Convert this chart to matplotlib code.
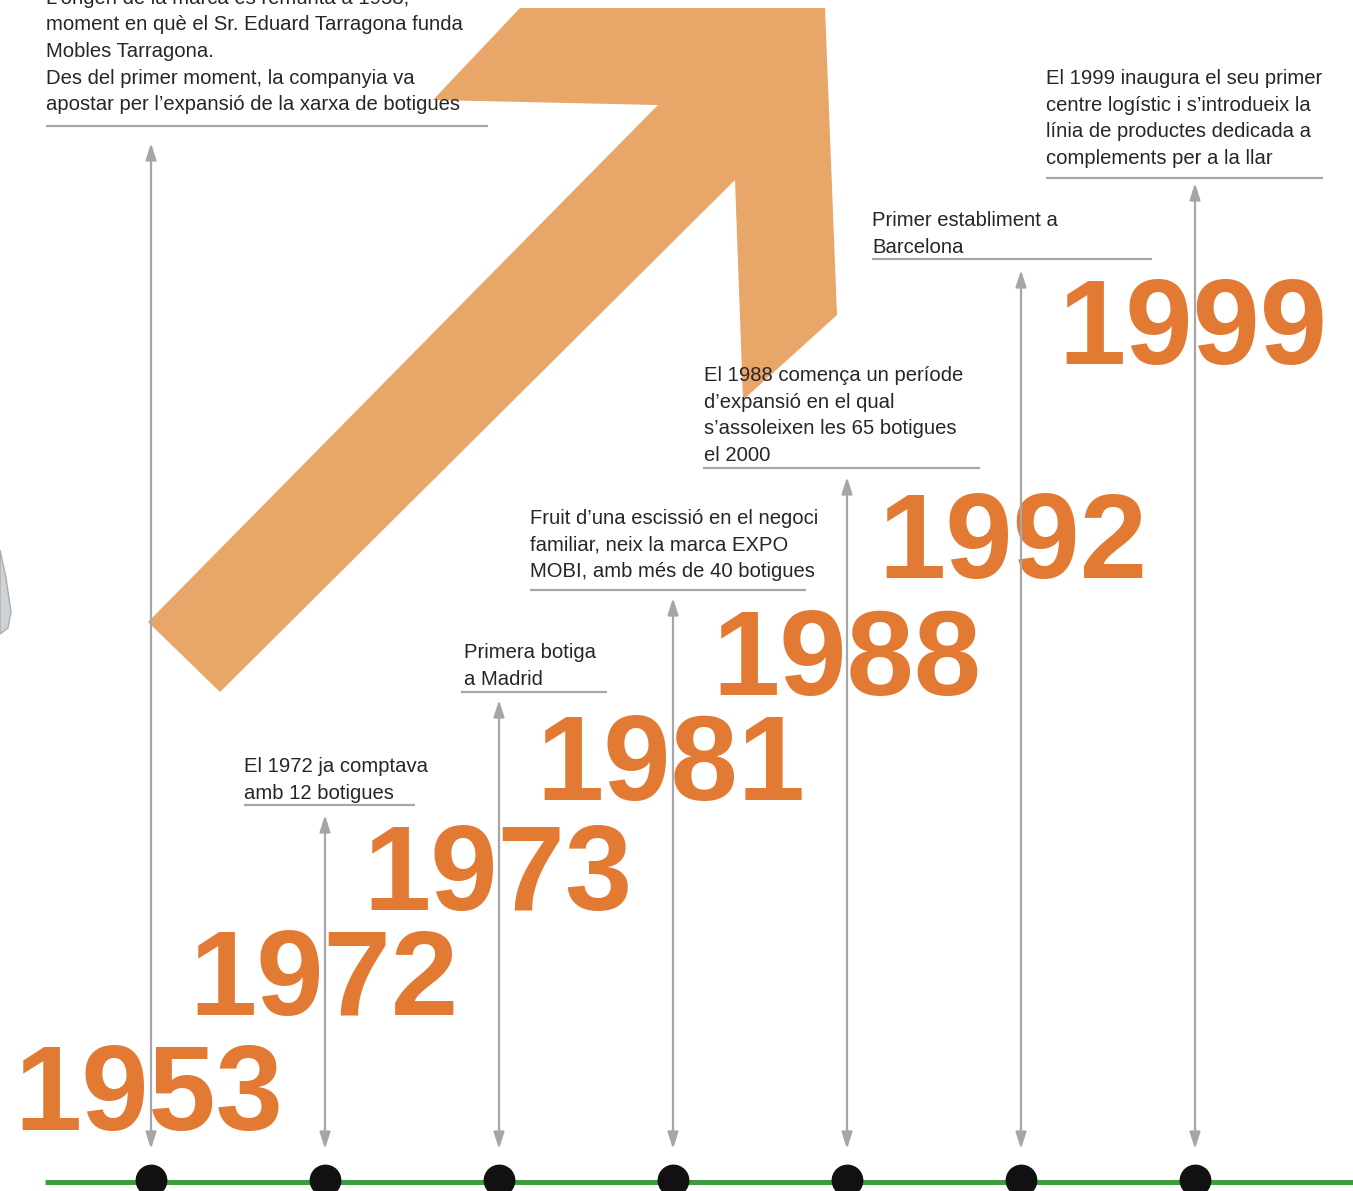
#!/usr/bin/env python3
# Timeline infographic: Mobles Tarragona / EXPO MOBI, 1953-1999

import matplotlib
matplotlib.use("Agg")
import matplotlib.pyplot as plt
import matplotlib.patches as mpl_p

# ---- data ----
years = ["1953", "1972", "1973", "1981", "1988", "1992", "1999"]
notes = [
    "L\u2019origen de la marca es remunta a 1953,\nmoment en qu\u00e8 el Sr. Eduard Tarragona funda\n"
    "Mobles Tarragona.\nDes del primer moment, la companyia va\napostar per l\u2019expansi\u00f3 de la xarxa de botigues",
    "El 1972 ja comptava\namb 12 botigues",
    "Primera botiga\na Madrid",
    "Fruit d\u2019una escissi\u00f3 en el negoci\nfamiliar, neix la marca EXPO\nMOBI, amb m\u00e9s de 40 botigues",
    "El 1988 comen\u00e7a un per\u00edode\nd\u2019expansi\u00f3 en el qual\ns\u2019assoleixen les 65 botigues\nel 2000",
    "Primer establiment a\nBarcelona",
    "El 1999 inaugura el seu primer\ncentre log\u00edstic i s\u2019introdueix la\nl\u00ednia de productes dedicada a\ncomplements per a la llar",
]

# ---- layout (pixels, y down) ----
W, H = 1353, 1191
X0, STEP = 151, 174          # timeline dot spacing
LINE_Y = 1182
year_xy = [(14, 1130), (189, 1015), (363, 910), (536, 800), (712, 695), (878, 578), (1058, 364)]
note_xy = [(46, 3.5), (244, 772), (464, 658), (530, 524), (704, 381), (872, 226), (1046, 84)]
rule_y = [126, 805, 692, 590, 468, 259, 178]
rule_x = [(46, 488), (244, 415), (461, 607), (530, 806), (703, 980), (872, 1152), (1046, 1323)]
arrow_top = [143, 815, 700, 598, 477, 270, 183]
LEAD = 26.7

ORANGE = "#e27a33"
ARROW_FILL = "#e8a669"
GREY = "#a6a6a6"
TEXT = "#262626"

fig = plt.figure(figsize=(W / 100, H / 100), dpi=100)
ax = fig.add_axes([0, 0, 1, 1])
ax.set_xlim(0, W)
ax.set_ylim(H, 0)
ax.axis("off")

# big rising arrow behind everything
big_arrow = [(148, 622), (658, 105), (433, 100), (520, 8), (825, 8),
             (837, 315), (743, 400), (735, 180), (220, 692)]
ax.add_patch(mpl_p.Polygon(big_arrow, closed=True, fc=ARROW_FILL, ec="none", zorder=1))

# clipped grey shape on left edge
ax.add_patch(mpl_p.Polygon([(0, 550), (6, 578), (11, 612), (8, 628), (0, 634)],
                           closed=True, fc="#cfd3d6", ec="#a9adb0", lw=1, zorder=1))

for i, (yr, note) in enumerate(zip(years, notes)):
    x = X0 + STEP * i

    # year number
    yx, yy = year_xy[i]
    ax.text(yx, yy, yr, fontsize=87, fontweight="bold", color=ORANGE,
            family="Liberation Sans", ha="left", va="baseline", zorder=2)

    # note text, one line at a time
    nx, ny = note_xy[i]
    for k, line in enumerate(note.split("\n")):
        ax.text(nx, ny + k * LEAD, line, fontsize=14.6, color=TEXT,
                family="Liberation Sans", ha="left", va="baseline", zorder=4)

    # rule under note
    ax.plot(rule_x[i], [rule_y[i]] * 2, color=GREY, lw=1.6, solid_capstyle="butt", zorder=3)

    # double headed connector
    ax.annotate("", xy=(x, arrow_top[i]), xytext=(x, 1149),
                arrowprops=dict(arrowstyle="<|-|>,head_length=1.0,head_width=0.32",
                                color=GREY, lw=1.6, shrinkA=0, shrinkB=0), zorder=3)

# timeline
ax.plot([45, W], [LINE_Y, LINE_Y], color="#3d9a3d", lw=3.6, solid_capstyle="butt", zorder=5)
ax.scatter([X0 + STEP * i for i in range(len(years))], [1180] * len(years),
           s=480, color="#111111", zorder=6, clip_on=True)

fig.savefig("out.png", dpi=100)
